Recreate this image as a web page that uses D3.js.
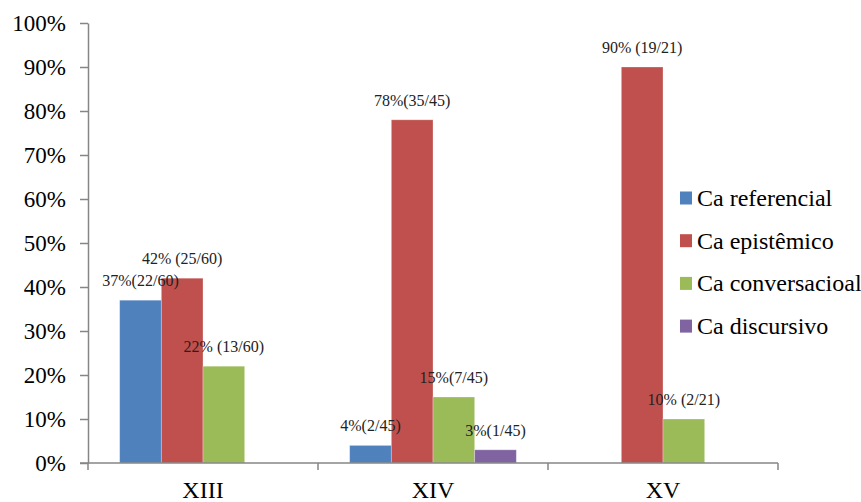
<!DOCTYPE html>
<html>
<head>
<meta charset="utf-8">
<script src="https://cdn.jsdelivr.net/npm/d3@7"></script>
<style>
  html, body { margin: 0; padding: 0; background: #fff; }
  svg { display: block; }
  svg text { font-family: "Liberation Serif", "Times New Roman", Times, "DejaVu Serif", serif !important; }
</style>
</head>
<body>
<svg id="chart" width="861" height="502"></svg>
<script>
// Century groups on the x axis
const categories = ["XIII", "XIV", "XV"];
// Series names, in legend order
const seriesNames = ["Ca referencial", "Ca epistêmico", "Ca conversacioal", "Ca discursivo"];
const seriesColors = ["#4F81BD", "#C0504D", "#9BBB59", "#8064A2"];

// Percentages per century (null = no occurrence)
const referencial     = [37, 4, null];
const epistemico      = [42, 78, 90];
const conversacional  = [22, 15, 10];
const discursivo      = [null, 3, null];

// Data labels shown above each bar
const referencialLabels    = ["37%(22/60)", "4%(2/45)", null];
const epistemicoLabels     = ["42% (25/60)", "78%(35/45)", "90% (19/21)"];
const conversacionalLabels = ["22% (13/60)", "15%(7/45)", "10% (2/21)"];
const discursivoLabels     = [null, "3%(1/45)", null];

// Y axis ticks
const yTicks = [0, 10, 20, 30, 40, 50, 60, 70, 80, 90, 100];

const seriesValues = [referencial, epistemico, conversacional, discursivo];
const seriesLabels = [referencialLabels, epistemicoLabels, conversacionalLabels, discursivoLabels];

const serif = "'Liberation Serif', 'Times New Roman', Times, 'DejaVu Serif', serif";

const svg = d3.select("#chart");
const plotLeft = 88, plotRight = 778, plotTop = 23, plotBottom = 463;

const x0 = d3.scaleBand().domain(categories).range([plotLeft, plotRight]).padding(0);
const x1 = d3.scaleBand().domain(seriesNames).range([0, x0.bandwidth()])
  .paddingInner(0).paddingOuter(0.76);
const y = d3.scaleLinear().domain([0, 100]).range([plotBottom, plotTop]);

// Flatten into bar records
const bars = [];
categories.forEach((cat, ci) => {
  seriesNames.forEach((s, si) => {
    const v = seriesValues[si][ci];
    if (v != null) bars.push({ cat, s, si, v, label: seriesLabels[si][ci] });
  });
});

// Bars
svg.append("g").selectAll("rect").data(bars).join("rect")
  .attr("x", d => x0(d.cat) + x1(d.s))
  .attr("y", d => y(d.v))
  .attr("width", x1.bandwidth())
  .attr("height", d => y(0) - y(d.v))
  .attr("fill", d => seriesColors[d.si])
  .attr("stroke", "#ffffff")
  .attr("stroke-opacity", 0.35)
  .attr("stroke-width", 0.8);

// Y axis
const yAxis = d3.axisLeft(y).tickValues(yTicks).tickFormat(d => d + "%")
  .tickSizeInner(8).tickSizeOuter(0).tickPadding(14);
const gy = svg.append("g").attr("transform", `translate(${plotLeft},0)`).call(yAxis)
  .attr("font-family", serif).attr("font-size", 23);
gy.select(".domain").attr("stroke", "#868686").attr("stroke-width", 1.5);
gy.selectAll(".tick line").attr("stroke", "#868686").attr("stroke-width", 1.5);
gy.selectAll(".tick text").attr("fill", "#000");

// X axis: ticks at the group boundaries
const gx = svg.append("g").attr("transform", `translate(0,${plotBottom})`);
gx.append("line")
  .attr("x1", plotLeft - 8).attr("x2", plotRight)
  .attr("y1", 0).attr("y2", 0)
  .attr("stroke", "#868686").attr("stroke-width", 1.5);
const boundaries = categories.map(c => x0(c)).concat([plotRight]);
gx.selectAll("line.sep").data(boundaries).join("line")
  .attr("class", "sep")
  .attr("x1", d => d).attr("x2", d => d)
  .attr("y1", 0).attr("y2", 7)
  .attr("stroke", "#868686").attr("stroke-width", 1.5);
gx.selectAll("text").data(categories).join("text")
  .attr("x", d => x0(d) + x0.bandwidth() / 2)
  .attr("y", 35)
  .attr("text-anchor", "middle")
  .attr("font-family", serif)
  .attr("font-size", 24)
  .attr("fill", "#000")
  .text(d => d);

// Data labels
svg.append("g").selectAll("text").data(bars.filter(d => d.label)).join("text")
  .attr("x", d => x0(d.cat) + x1(d.s) + x1.bandwidth() / 2)
  .attr("y", d => y(d.v) - 14)
  .attr("text-anchor", "middle")
  .attr("font-family", serif)
  .attr("font-size", 16)
  .attr("fill", "#222")
  .text(d => d.label);

// Legend
const legend = svg.append("g").attr("transform", "translate(680,198)");
const items = legend.selectAll("g").data(seriesNames).join("g")
  .attr("transform", (d, i) => `translate(0,${i * 42.7})`);
items.append("rect")
  .attr("x", 0).attr("y", -6.5)
  .attr("width", 12).attr("height", 13)
  .attr("fill", (d, i) => seriesColors[i]);
items.append("text")
  .attr("x", 17).attr("y", 0)
  .attr("dy", "0.33em")
  .attr("font-family", serif)
  .attr("font-size", 24)
  .attr("fill", "#000")
  .text(d => d);
</script>
</body>
</html>
